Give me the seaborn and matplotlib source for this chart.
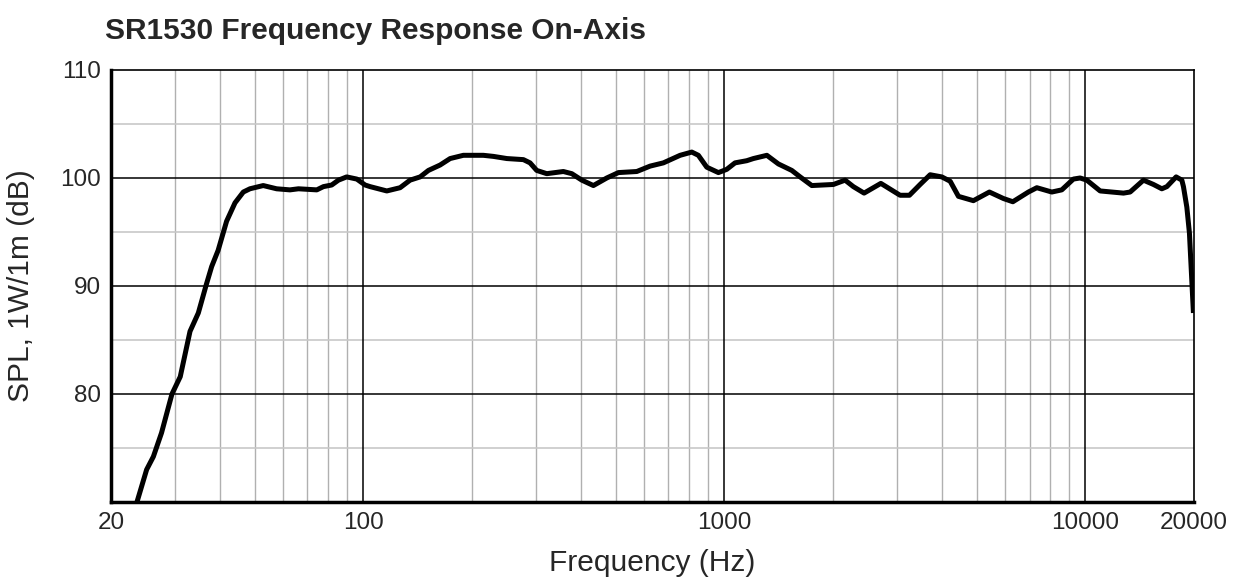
#!/usr/bin/env python3
"""SR1530 on-axis frequency response."""

import matplotlib
matplotlib.use("Agg")
import matplotlib.pyplot as plt
import matplotlib.ticker as ticker
import pandas as pd
import seaborn as sns

# Frequency (Hz) and SPL (dB)
FREQ = [23.6, 25.1, 26.2, 27.6, 29.5, 31.1, 33.1, 34.9, 36.7, 38.0,
        39.6, 41.8, 44.1, 46.5, 48.5, 52.8, 57.5, 62.6, 66.1, 74.3,
        77.5, 81.7, 85.3, 89.9, 95.9, 101.1, 104.4, 116.1, 126.4, 134.7,
        143.6, 151.4, 163.1, 173.9, 189.2, 214.9, 229.1, 249.7, 277.5, 289.5,
        302.1, 322.1, 358, 377.8, 402.8, 433.6, 472.2, 508.6, 571.8, 622.6,
        677.6, 753.8, 812.2, 847, 893.6, 962.4, 1015, 1070, 1153, 1203,
        1311, 1411, 1537, 1621, 1746, 2004, 2159, 2276, 2437, 2712,
        3066, 3254, 3484, 3714, 4001, 4220, 4449, 4894, 5420, 5926,
        6294, 6950, 7334, 8068, 8600, 9260, 9666, 10088, 10984, 12746,
        13298, 14478, 15432, 16278, 16808, 17832, 18494, 18684, 19092, 19410,
        19912]
SPL = [70.0, 73.0, 74.2, 76.4, 80.0, 81.6, 85.8, 87.5, 90.1, 91.8,
       93.3, 96.0, 97.7, 98.7, 99.0, 99.3, 99.0, 98.9, 99.0, 98.9,
       99.2, 99.35, 99.8, 100.1, 99.9, 99.35, 99.2, 98.8, 99.1, 99.8,
       100.1, 100.7, 101.2, 101.8, 102.1, 102.1, 102.0, 101.8, 101.7, 101.4,
       100.7, 100.4, 100.6, 100.4, 99.8, 99.3, 100.0, 100.5, 100.6, 101.1,
       101.4, 102.1, 102.4, 102.1, 101.0, 100.5, 100.8, 101.4, 101.6, 101.8,
       102.1, 101.3, 100.7, 100.1, 99.3, 99.4, 99.8, 99.2, 98.6, 99.5,
       98.4, 98.4, 99.4, 100.3, 100.1, 99.7, 98.3, 97.9, 98.7, 98.1,
       97.8, 98.7, 99.1, 98.7, 98.9, 99.9, 100.0, 99.8, 98.8, 98.6,
       98.7, 99.8, 99.4, 99.0, 99.2, 100.1, 99.8, 99.2, 97.3, 94.9,
       87.5]

X_TICKS = [20, 100, 1000, 10000, 20000]
X_MINOR = [f * d for d in (10, 100, 1000) for f in range(2, 10)]
X_MAJOR_GRID = [100, 1000, 10000]
Y_TICKS = [80, 90, 100, 110]
Y_MAJOR_GRID = [80, 90, 100]
Y_MINOR = [75, 85, 95, 105]


def main():
    sns.set_style("white")
    plt.rcParams["font.family"] = ["Liberation Sans", "DejaVu Sans"]

    df = pd.DataFrame({"freq": FREQ, "spl": SPL})

    fig = plt.figure(figsize=(12.35, 5.77), dpi=100)
    ax = fig.add_axes([0.0899, 0.130, 0.8770, 0.7487])

    # grid first so the curve sits on top
    for f in X_MINOR:
        if 20 < f < 20000:
            ax.axvline(f, color="#b0b0b0", lw=1.0, zorder=1)
    for y in Y_MINOR:
        ax.axhline(y, color="#c8c8c8", lw=1.2, zorder=1)
    for f in X_MAJOR_GRID:
        ax.axvline(f, color="black", lw=1.1, zorder=2)
    for y in Y_MAJOR_GRID:
        ax.axhline(y, color="black", lw=1.1, zorder=2)

    sns.lineplot(data=df, x="freq", y="spl", color="black", linewidth=3.6,
                 solid_joinstyle="round", solid_capstyle="butt",
                 ax=ax, zorder=3)

    ax.set_xscale("log")
    ax.set_xlim(20, 20000)
    ax.set_ylim(70, 110)
    ax.xaxis.set_major_locator(ticker.FixedLocator(X_TICKS))
    ax.xaxis.set_major_formatter(ticker.FixedFormatter([str(t) for t in X_TICKS]))
    ax.xaxis.set_minor_locator(ticker.NullLocator())
    ax.set_yticks(Y_TICKS)
    ax.tick_params(axis="both", length=0, labelsize=17.5, pad=7)

    ax.set_xlabel("Frequency (Hz)", fontsize=21.5)
    ax.set_ylabel("SPL, 1W/1m (dB)", fontsize=21.5)
    ax.xaxis.set_label_coords(0.5, -0.108)
    ax.yaxis.set_label_coords(-0.070, 0.5)

    for side in ("top", "right"):
        ax.spines[side].set_linewidth(1.2)
        ax.spines[side].set_color("black")
    for side in ("left", "bottom"):
        ax.spines[side].set_linewidth(2.5)
        ax.spines[side].set_color("black")

    fig.text(105 / 1235, 1 - 31 / 577, "SR1530 Frequency Response On-Axis",
             fontsize=21.5, fontweight="bold", va="center", ha="left")

    fig.savefig("out.png", dpi=100)
    plt.close(fig)


if __name__ == "__main__":
    main()
